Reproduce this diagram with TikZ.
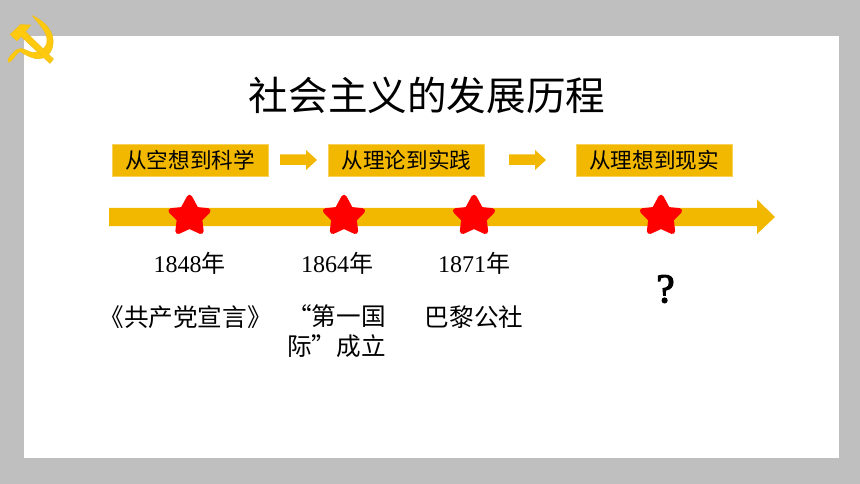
\documentclass[tikz,border=0pt]{standalone}
\usepackage{fontspec}
\setmainfont{Liberation Serif}
\newfontfamily\cjk{Noto Sans CJK SC}
\newfontfamily\markfont[FakeBold=3]{Liberation Serif}
\definecolor{frame}{HTML}{BFBFBF}
\definecolor{gold}{HTML}{F2B800}
\definecolor{emblem}{HTML}{FFC90E}
\tikzset{
  x=1pt,y=-1pt,
  stage/.style={fill=gold,draw=gold!65!white,line width=.5pt,minimum height=32pt,inner sep=0pt,font=\cjk\fontsize{21.6}{22}\selectfont},
  yeartext/.style={inner sep=0pt,font=\fontsize{24}{24}\selectfont},
  eventtext/.style={inner sep=0pt,align=center,font=\cjk\fontsize{24.6}{30}\selectfont},
  redstar/.style={fill=red,draw=red,line width=5.5pt,line join=round},
  blockarrow/.style={fill=gold},
  emblempart/.style={fill=emblem,draw=emblem!85!gray,line width=.4pt,line join=round}
}
% rounded five-pointed star centred on the given point
\newcommand{\redstarat}[2]{%
  \fill[redstar] (#1+0,#2-18) -- (#1+6.6,#2-5.8) -- (#1+18.4,#2-4.6) -- (#1+10,#2+3.8)
    -- (#1+11.4,#2+15.8) -- (#1+0,#2+10.6) -- (#1-11.4,#2+15.8) -- (#1-10,#2+3.8)
    -- (#1-18.4,#2-4.6) -- (#1-6.6,#2-5.8) -- cycle;}
\newcommand{\smallarrow}[1]{%
  \fill[blockarrow] (#1,154.5) -- (#1+26,154.5) -- (#1+26,150) -- (#1+37,160) -- (#1+26,170) -- (#1+26,165) -- (#1,165) -- cycle;}
\begin{document}
\begin{tikzpicture}
\useasboundingbox (0,0) rectangle (860,484);
% slide background and white sheet
\fill[frame] (0,0) rectangle (860,484);
\fill[white] (24,36) rectangle (839,458);

% sickle blade and handle
\fill[emblempart]
  (32,15.5) .. controls (39,24) and (47,32) .. (47,40)
  .. controls (47,48) and (41,52) .. (34,52.5)
  .. controls (29,52.5) and (26,49) .. (21,48.5)
  .. controls (16,48) and (11,55) .. (8,59)
  -- (8,62.5) .. controls (13,62) and (15,54) .. (20,51.5)
  .. controls (26,55) and (33,60) .. (41,58.5)
  .. controls (50,57) and (54,48) .. (53,39)
  .. controls (52,29) and (43,20) .. (32,15.5) -- cycle;
% hammer head and shaft
\fill[emblempart]
  (10,34.5) -- (20.5,24.5) -- (31,25) -- (25.5,31.5) -- (53.5,59) -- (50,63.5) -- (21,36.5) -- (17,41) -- cycle;

% title
\node (title) [inner sep=0pt,font=\cjk\fontsize{39.6}{40}\selectfont] at (427,95) {社会主义的发展历程};

% stage labels
\node (s1) [stage,minimum width=156pt] at (190,160) {从空想到科学};
\node (s2) [stage,minimum width=156pt] at (406.5,160.5) {从理论到实践};
\node (s3) [stage,minimum width=156pt] at (654,160) {从理想到现实};
\smallarrow{280}
\smallarrow{509}

% timeline
\fill[blockarrow] (109,208) -- (757,208) -- (757,199.5) -- (775,217) -- (757,234) -- (757,226) -- (109,226) -- cycle;
\redstarat{189.5}{215.5}
\redstarat{344}{215.5}
\redstarat{474}{215.5}
\redstarat{661}{215.5}

% years
\node (y1) [yeartext] at (189.5,263) {1848{\cjk 年}};
\node (y2) [yeartext] at (337,263) {1864{\cjk 年}};
\node (y3) [yeartext] at (474,263) {1871{\cjk 年}};
\node (q) [inner sep=0pt,font=\markfont\fontsize{41}{41}\selectfont] at (665.5,289) {?};

% events
\node (e1) [eventtext] at (185.5,317) {《共产党宣言》};
\node (e2) [eventtext] at (336.5,331.5) {“第一国\\际”成立};
\node (e3) [eventtext] at (474,317) {巴黎公社};
\end{tikzpicture}
\end{document}
